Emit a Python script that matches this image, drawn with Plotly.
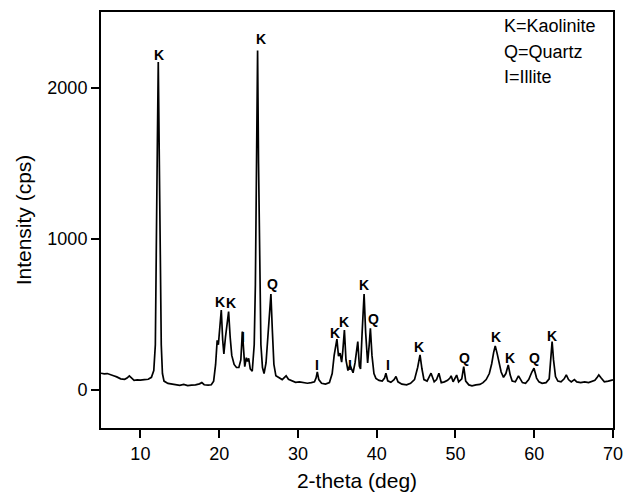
import plotly.graph_objects as go

two_theta = [5.0, 5.4, 5.8, 6.2, 6.6, 7.0, 7.5, 8.0, 8.3, 8.6, 8.9, 9.2, 9.6, 10.0, 10.5, 11.0, 11.4, 11.7,
             11.9, 12.05, 12.15, 12.27, 12.38, 12.5, 12.65, 12.8, 13.0, 13.5, 14.0, 14.5, 15.0, 15.5, 16.0,
             16.5, 17.0, 17.5, 17.8, 18.1, 18.6, 19.0, 19.3, 19.55, 19.75, 19.9, 20.05, 20.27, 20.45, 20.6,
             20.8, 21.05, 21.2, 21.4, 21.6, 21.9, 22.2, 22.5, 22.75, 22.95, 23.1, 23.25, 23.45, 23.6, 23.75,
             23.95, 24.2, 24.45, 24.6, 24.75, 24.88, 25.0, 25.15, 25.3, 25.5, 25.7, 25.95, 26.2, 26.4, 26.57,
             26.75, 26.95, 27.2, 27.6, 28.0, 28.3, 28.5, 28.8, 29.2, 29.7, 30.2, 30.7, 31.2, 31.7, 32.1, 32.3,
             32.46, 32.65, 33.0, 33.5, 34.0, 34.35, 34.6, 34.95, 35.15, 35.35, 35.55, 35.7, 35.9, 36.1, 36.35,
             36.6, 36.8, 37.0, 37.25, 37.45, 37.6, 37.8, 37.95, 38.15, 38.4, 38.6, 38.85, 39.05, 39.2, 39.4,
             39.65, 39.9, 40.3, 40.7, 41.0, 41.17, 41.4, 41.8, 42.2, 42.45, 42.7, 43.2, 43.8, 44.3, 44.8, 45.2,
             45.5, 45.75, 46.0, 46.4, 46.9, 47.3, 47.6, 47.9, 48.2, 48.6, 49.0, 49.3, 49.45, 49.7, 50.0, 50.15,
             50.4, 50.8, 51.05, 51.3, 51.7, 52.1, 52.6, 53.1, 53.5, 53.9, 54.3, 54.6, 54.85, 55.05, 55.3, 55.55,
             55.8, 56.1, 56.4, 56.7, 56.95, 57.2, 57.6, 58.0, 58.2, 58.5, 58.9, 59.3, 59.7, 59.97, 60.3, 60.6,
             61.0, 61.5, 61.9, 62.1, 62.27, 62.45, 62.7, 63.0, 63.4, 63.8, 64.07, 64.35, 64.7, 65.1, 65.4, 65.9,
             66.4, 66.9, 67.3, 67.7, 68.0, 68.2, 68.5, 68.9, 69.4, 70.0]

intensity = [112, 108, 110, 100, 95, 88, 75, 72, 80, 95, 80, 65, 68, 66, 70, 72, 85, 130,
             300, 900, 1600, 2169, 1700, 900, 300, 110, 60, 45, 40, 35, 32, 38, 30,
             34, 35, 42, 50, 36, 33, 36, 60, 170, 330, 300, 400, 530, 330, 240,
             350, 480, 519, 350, 230, 170, 150, 150, 200, 387, 250, 156, 215, 190, 211,
             140, 125, 300, 700, 1500, 2246, 1500, 700, 300, 150, 110, 180, 350, 500, 636,
             400, 170, 95, 80, 70, 85, 95, 72, 65, 52, 55, 48, 46, 50, 55, 80,
             120, 70, 46, 40, 50, 110, 230, 337, 225, 244, 185, 260, 398, 200, 130,
             167, 140, 115, 180, 260, 321, 160, 140, 380, 636, 380, 180, 300, 409, 230,
             110, 78, 65, 60, 80, 112, 62, 52, 70, 90, 55, 40, 35, 45, 70, 150,
             233, 140, 70, 60, 112, 55, 70, 112, 50, 55, 65, 80, 95, 55, 80, 100,
             55, 75, 156, 60, 35, 29, 35, 38, 50, 70, 110, 175, 250, 293, 240, 170,
             120, 85, 110, 167, 100, 60, 55, 95, 80, 50, 45, 70, 120, 145, 80, 55,
             45, 50, 75, 200, 321, 200, 90, 60, 55, 75, 101, 70, 55, 70, 55, 50,
             55, 50, 58, 65, 85, 101, 80, 55, 60, 68]

label_text = ["K", "K", "K", "K", "I", "Q", "I", "K", "K", "I", "K", "Q", "I", "K", "Q", "K", "K", "Q", "K"]
label_x = [12.33, 25.29, 20.16, 21.44, 23.03, 26.82, 32.46, 34.76, 35.89, 36.66, 38.35, 39.63, 41.42,
           45.42, 51.16, 55.1, 56.95, 60.07, 62.27]
label_y = [2213, 2323, 585, 579, 354, 702, 167, 381, 453, 167, 695, 469, 167,
           288, 216, 350, 211, 211, 361]

legend_lines = ["K=Kaolinite", "Q=Quartz", "I=Illite"]

FONT = "Liberation Sans, Arial, sans-serif"

fig = go.Figure()
fig.add_trace(go.Scatter(x=two_theta, y=intensity, mode="lines",
                         line=dict(color="black", width=1.7), showlegend=False,
                         hoverinfo="skip"))

for t, xv, yv in zip(label_text, label_x, label_y):
    fig.add_annotation(x=xv, y=yv, text="<b>" + t + "</b>", showarrow=False,
                       font=dict(family=FONT, size=14, color="black"),
                       xanchor="center", yanchor="middle")

for i, line in enumerate(legend_lines):
    fig.add_annotation(xref="paper", yref="paper", x=0.784, y=0.966 - i * 0.0615,
                       text=line, showarrow=False, xanchor="left", yanchor="middle",
                       font=dict(family=FONT, size=18, color="black"))

axis_common = dict(showline=True, linecolor="black", linewidth=2, mirror=True,
                   ticks="outside", ticklen=8, tickwidth=2, tickcolor="black",
                   showgrid=False, zeroline=False,
                   tickfont=dict(family=FONT, size=18, color="black"))

fig.update_xaxes(range=[5, 70], tickvals=[10, 20, 30, 40, 50, 60, 70],
                 title=dict(text="2-theta (deg)", font=dict(family=FONT, size=21, color="black"),
                            standoff=12),
                 **axis_common)
fig.update_yaxes(range=[-250, 2500], tickvals=[0, 1000, 2000],
                 title=dict(text="Intensity (cps)", font=dict(family=FONT, size=21, color="black"),
                            standoff=10),
                 **axis_common)

fig.update_layout(width=624, height=484, plot_bgcolor="white", paper_bgcolor="white",
                  margin=dict(l=93, r=19, t=4, b=64, autoexpand=False))

fig.write_html("out.html")
